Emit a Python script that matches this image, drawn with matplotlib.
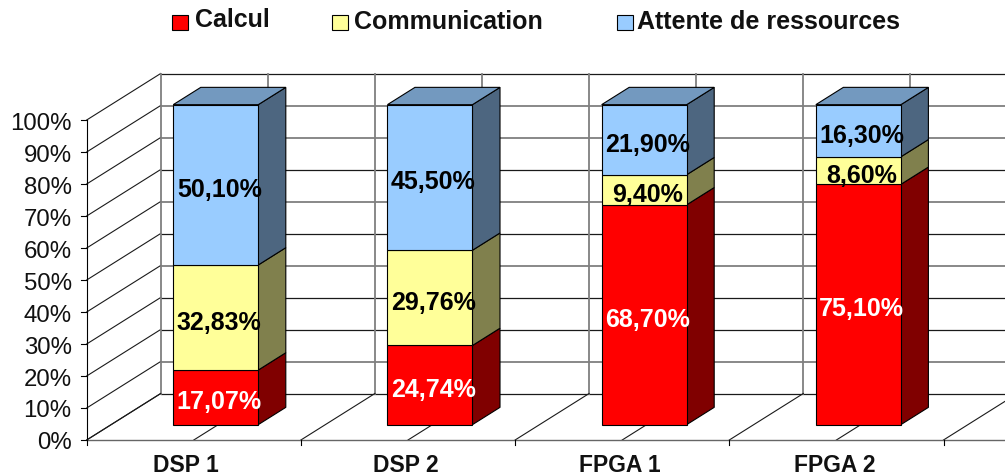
import matplotlib
matplotlib.use('Agg')
import matplotlib.pyplot as plt
from matplotlib.patches import Polygon, Rectangle

plt.rcParams['font.family'] = ['Liberation Sans', 'DejaVu Sans']

categories = ['DSP 1', 'DSP 2', 'FPGA 1', 'FPGA 2']
calcul = [17.07, 24.74, 68.70, 75.10]
communication = [32.83, 29.76, 9.40, 8.60]
attente = [50.10, 45.50, 21.90, 16.30]
y_ticks = [0, 10, 20, 30, 40, 50, 60, 70, 80, 90, 100]

series = [calcul, communication, attente]
names = ['Calcul', 'Communication', 'Attente de ressources']
front_colors = ['#FF0000', '#FFFF99', '#99CCFF']
side_colors = ['#800000', '#80804D', '#4D6680']
top_color = '#7399BF'
label_colors = ['white', 'black', 'black']

# one category = 214.2 px, one percent = 3.2 px
W, H = 1005, 477
cat_px, pct_px = 214.2, 3.2
x0_px, y0_px = 86.7, 441.0

fig = plt.figure(figsize=(W / 100, H / 100), dpi=100)
ax = fig.add_axes([0, 0, 1, 1])
ax.set_xlim(-x0_px / cat_px, (W - x0_px) / cat_px)
ax.set_ylim((y0_px - H) / pct_px, y0_px / pct_px)
ax.axis('off')

# oblique projection of the depth axis
depth_x = 74 / cat_px
depth_y = 46.5 / pct_px


def project(x, y, d):
    return (x + d * depth_x, y + d * depth_y)


n_cat = len(categories)
grid_dark = '#1a1a1a'
grid_grey = '#7f7f7f'
dark_ticks = (100, 70, 50, 30, 20, 0)

# back wall and left wall gridlines
for t in y_ticks:
    col = grid_dark if t in dark_ticks else grid_grey
    lw = 0.9 if t in dark_ticks else 1.3
    ax.plot(*zip(project(0, t, 1), project(n_cat + 0.5, t, 1)), color=col, lw=lw, zorder=1)
    ax.plot(*zip(project(0, t, 0), project(0, t, 1)), color=grid_dark, lw=0.8, zorder=1)

# wall verticals and floor lines every half category
for i in range(0, 2 * n_cat + 1):
    x = i / 2
    ax.plot(*zip(project(x, 0, 1), project(x, 100, 1)), color=grid_grey, lw=1.3, zorder=1)
    ax.plot(*zip(project(x, 0, 0), project(x, 0, 1)), color=grid_dark, lw=0.8, zorder=1)

# front axes
ax.plot([0, 0], [0, 100], color='black', lw=0.8, zorder=2)
ax.plot([0, n_cat + 0.5], [0, 0], color='#666666', lw=1.0, zorder=2)
for t in y_ticks:
    ax.plot([-6 / cat_px, 0], [t, t], color='black', lw=0.8, zorder=2)
    ax.text(-15 / cat_px, t, f'{t}%', ha='right', va='center_baseline', fontsize=17.3, color='#111111')
for i in range(n_cat + 1):
    ax.plot([i, i], [0, -5 / pct_px], color='black', lw=0.8, zorder=2)

# bars
bar_left = 0.29
bar_width = 0.397
d_front = 0.33
d_back = 0.702
label_x_px = [186, 405.5, 619.5, 835]
for i, cat in enumerate(categories):
    left = i + bar_left
    right = left + bar_width
    bottom = 0
    for vals, fc, sc, lc in zip(series, front_colors, side_colors, label_colors):
        top = bottom + vals[i]
        z = 3 + i
        front = [project(left, bottom, d_front), project(right, bottom, d_front),
                 project(right, top, d_front), project(left, top, d_front)]
        side = [project(right, bottom, d_front), project(right, bottom, d_back),
                project(right, top, d_back), project(right, top, d_front)]
        ax.add_patch(Polygon(side, fc=sc, ec='black', lw=0.8, zorder=z))
        ax.add_patch(Polygon(front, fc=fc, ec='black', lw=0.8, zorder=z))
        cx, cy = project(left + bar_width / 2, (bottom + top) / 2, d_front)
        ax.text(cx + 3.5 / cat_px, cy - 1.5 / pct_px, f'{vals[i]:.2f}%'.replace('.', ','), ha='center',
                va='center_baseline', fontsize=18, fontweight='bold', color=lc, zorder=20)
        bottom = top
    roof = [project(left, bottom, d_front), project(right, bottom, d_front),
            project(right, bottom, d_back), project(left, bottom, d_back)]
    ax.add_patch(Polygon(roof, fc=top_color, ec='black', lw=0.8, zorder=3 + i))
    ax.text((label_x_px[i] - x0_px) / cat_px, (y0_px - 472) / pct_px, cat, ha='center', va='baseline',
            fontsize=16.5, fontweight='bold', color='#111111')

# legend, placed by hand like the original
swatch_x = [172, 332, 617]
text_x = [195, 354, 637]
text_base = [27, 29, 29]
for name, fc, sx, tx, by in zip(names, front_colors, swatch_x, text_x, text_base):
    fig.add_artist(Rectangle((sx / W, 1 - 31 / H), 16 / W, 15 / H, transform=fig.transFigure,
                             fc=fc, ec='black', lw=0.8))
    fig.text(tx / W, 1 - by / H, name, ha='left', va='baseline', fontsize=18,
             fontweight='bold', color='#111111')

fig.savefig('out.png', dpi=100)
